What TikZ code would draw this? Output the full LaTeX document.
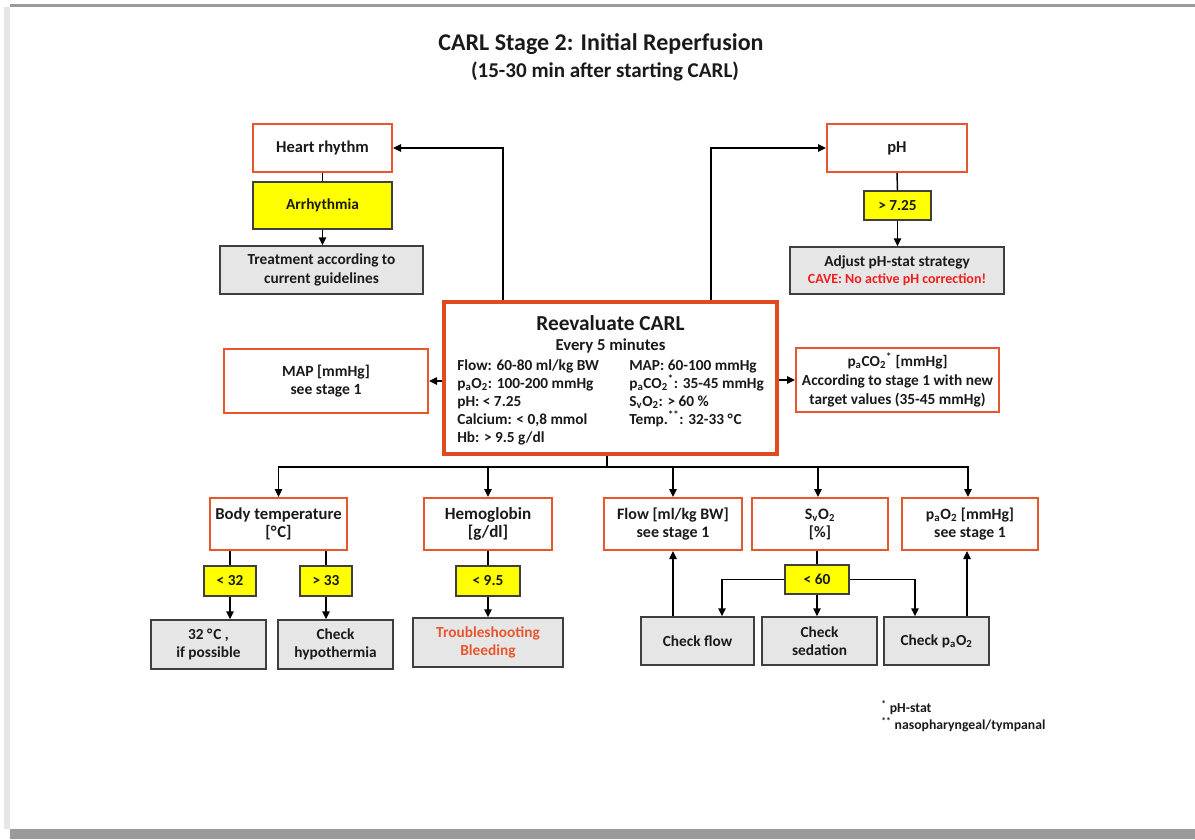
\documentclass[tikz,border=0pt]{standalone}
\usepackage{fontspec}
\setmainfont{Carlito}
\usetikzlibrary{arrows.meta}
\definecolor{obox}{HTML}{E8562E}
\definecolor{ctrbox}{HTML}{E04A1F}
\definecolor{ybox}{HTML}{FFFF00}
\definecolor{gbox}{HTML}{E7E6E6}
\definecolor{gline}{HTML}{3F3F3F}
\definecolor{cave}{HTML}{F01E1E}
\definecolor{troub}{HTML}{E8562E}
\definecolor{framegrey}{HTML}{9A9A9A}
\definecolor{framelight}{HTML}{E6E6E6}
\definecolor{txt}{HTML}{1A1A1A}
\newcommand\sbs[1]{\textsubscript{#1}}
\newcommand\sps[1]{\textsuperscript{#1}}
\newcommand\dgr{°\kern0.6pt}
\newcommand\bx[7]{\node[#6, minimum width={(#4-#2)*0.75pt}, minimum height={(#5-#3)*0.75pt}] (#1) at ({(#2+#4)/2},{(#3+#5)/2}) {#7};}
\begin{document}
\begin{tikzpicture}[x=0.75pt,y=-0.75pt,
  fsz/.style 2 args={font=\bfseries\fontsize{#1}{#2}\selectfont},
  base/.style={draw, inner sep=0pt, align=center, text=txt, fsz={11.5}{13.5}},
  obx/.style={base, draw=obox, line width=1.5pt, fill=white, fsz={12}{13.5}},
  cbx/.style={base, draw=ctrbox, line width=2.3pt, fill=white},
  ybx/.style={base, draw=gline, line width=1.1pt, fill=ybox},
  gbx/.style={base, draw=gline, line width=1.1pt, fill=gbox},
  ln/.style={draw=black, line width=1.1pt},
  arr/.style={ln, -{Triangle[length=6pt,width=5.5pt]}},
  item/.style={anchor=base west, inner sep=0pt, text=txt, fsz={11.5}{13.5}},
  foot/.style={anchor=west, inner sep=0pt, text=txt, fsz={10.3}{12}}
]
\useasboundingbox (0,0) rectangle (1195,839);
\fill[white] (0,0) rectangle (1195,839);
% page frame
\fill[framegrey] (10,4) rectangle (1195,7);
\fill[framelight] (4,7) rectangle (10,829);
\fill[framegrey] (10,829) rectangle (1195,839);

% title
\node[text=txt, fsz={18}{22}] (title) at (601,44) {CARL Stage 2: Initial Reperfusion};
\node[text=txt, fsz={15.8}{19}] (subtitle) at (605,71) {(15-30 min after starting CARL)};

% top left
\bx{hr}{253}{124}{392}{172}{obx,fsz={12.4}{14}}{Heart rhythm}
\bx{arrh}{253}{182}{392}{229}{ybx}{Arrhythmia}
\bx{treat}{220}{246}{423}{294}{gbx,fsz={11.5}{14.2}}{Treatment according to\\current guidelines}

% top right
\bx{ph}{827}{124}{967}{172}{obx,fsz={12.4}{14}}{pH}
\bx{gt725}{864}{191}{931}{220}{ybx}{> 7.25}
\bx{adj}{790}{247}{1004}{294}{gbx,fsz={11.5}{12.5}}{Adjust pH-stat strategy\\\textcolor{cave}{\fontsize{10.5}{12.5}\selectfont CAVE: No active pH correction!}}

% centre
\bx{ctr}{444}{302}{777}{454}{cbx}{}
\node[text=txt, fsz={16}{19}] (ctrt) at (610.5,323) {Reevaluate CARL};
\node[text=txt, fsz={12.5}{15}] (ctrs) at (610.5,346) {Every 5 minutes};
\foreach \t [count=\i] in {Flow: 60-80 ml/kg BW, p\sbs{a}O\sbs{2}: 100-200 mmHg, pH: < 7.25, {Calcium: < 0,8 mmol}, Hb: > 9.5 g/dl}
  \node[item] (cl\i) at (457,{370+18.2*(\i-1)}) {\t};
\foreach \t [count=\i] in {MAP: 60-100 mmHg, p\sbs{a}CO\sbs{2}\sps{*}: 35-45 mmHg, S\sbs{v}O\sbs{2}: > 60 \%, Temp.\sps{**}: 32-33 \dgr C}
  \node[item] (cr\i) at (629,{370+18.2*(\i-1)}) {\t};

% sides
\bx{map}{224}{349}{428}{413}{obx,fsz={11.7}{13.5}}{MAP [mmHg]\\see stage 1}
\bx{paco}{796}{348}{999}{412}{obx,fsz={11.5}{14.2}}{p\sbs{a}CO\sbs{2}\sps{*} [mmHg]\\According to stage 1 with new\\target values (35-45 mmHg)}

% bottom row
\bx{bt}{210}{498}{347}{550}{obx,fsz={12.5}{13.5}}{Body temperature\\{[\dgr C]}}
\bx{hb}{424}{498}{552}{550}{obx,fsz={12.8}{13.5}}{Hemoglobin\\{[g/dl]}}
\bx{flow}{604}{498}{742}{550}{obx}{Flow [ml/kg BW]\\see stage 1}
\bx{svo}{752}{498}{888}{550}{obx}{S\sbs{v}O\sbs{2}\\{[\%]}}
\bx{pao}{902}{498}{1038}{550}{obx,fsz={11.8}{13.5}}{p\sbs{a}O\sbs{2} [mmHg]\\see stage 1}

\bx{lt32}{204}{566}{256}{596}{ybx}{< 32}
\bx{gt33}{300}{566}{352}{596}{ybx}{> 33}
\bx{lt95}{456}{566}{520}{596}{ybx}{< 9.5}
\bx{lt60}{785}{565}{849}{594}{ybx}{< 60}

\bx{c32}{151}{620}{266}{669}{gbx}{32 \dgr C ,\\if possible}
\bx{chyp}{278}{620}{393}{669}{gbx}{Check\\hypothermia}
\bx{trb}{413}{618}{563}{667}{gbx,text=troub}{Troubleshooting\\Bleeding}
\bx{cflow}{641}{617}{754}{665}{gbx}{Check flow}
\bx{csed}{762}{617}{877}{665}{gbx}{Check\\sedation}
\bx{cpao}{884}{617}{989}{665}{gbx}{Check p\sbs{a}O\sbs{2}}

% footnotes
\node[foot] (fn1) at (881,708) {\sps{*} pH-stat};
\node[foot] (fn2) at (881,725) {\sps{**} nasopharyngeal/tympanal};

% connectors
\draw[arr] (ctr.north -| 503,0) |- (hr.east);
\draw[arr] (ctr.north -| 711,0) |- (ph.west);
\draw[ln] (hr.south) -- (arrh.north);
\draw[arr] (arrh.south) -- (arrh.south |- treat.north);
\draw[ln] (ph.south) -- (gt725.north);
\draw[arr] (gt725.south) -- (gt725.south |- adj.north);
\draw[arr] (ctr.west |- map.east) -- (map.east);
\draw[arr] (ctr.east |- paco.west) -- (paco.west);

\coordinate (bus) at (607,467);
\draw[ln] (ctr.south -| bus) -- (bus);
\draw[arr] (bus) -| (bt.north);
\draw[arr] (bus) -| (hb.north);
\draw[arr] (bus) -| (flow.north);
\draw[arr] (bus) -| (svo.north -| 818,0);
\draw[arr] (bus) -| (pao.north -| 968,0);

\draw[ln] (bt.south -| lt32.north) -- (lt32.north);
\draw[arr] (lt32.south) -- (lt32.south |- c32.north);
\draw[ln] (bt.south -| gt33.north) -- (gt33.north);
\draw[arr] (gt33.south) -- (gt33.south |- chyp.north);
\draw[ln] (hb.south -| lt95.north) -- (lt95.north);
\draw[arr] (lt95.south) -- (lt95.south |- trb.north);

\draw[ln] (svo.south -| lt60.north) -- (lt60.north);
\draw[arr] (lt60.west) -| (cflow.north -| 722,0);
\draw[arr] (lt60.south) -- (lt60.south |- csed.north);
\draw[arr] (lt60.east) -| (cpao.north -| 915,0);
\draw[arr] (cflow.north -| flow.south) -- (flow.south);
\draw[arr] (cpao.north -| 967,0) -- (pao.south -| 967,0);
\end{tikzpicture}
\end{document}
